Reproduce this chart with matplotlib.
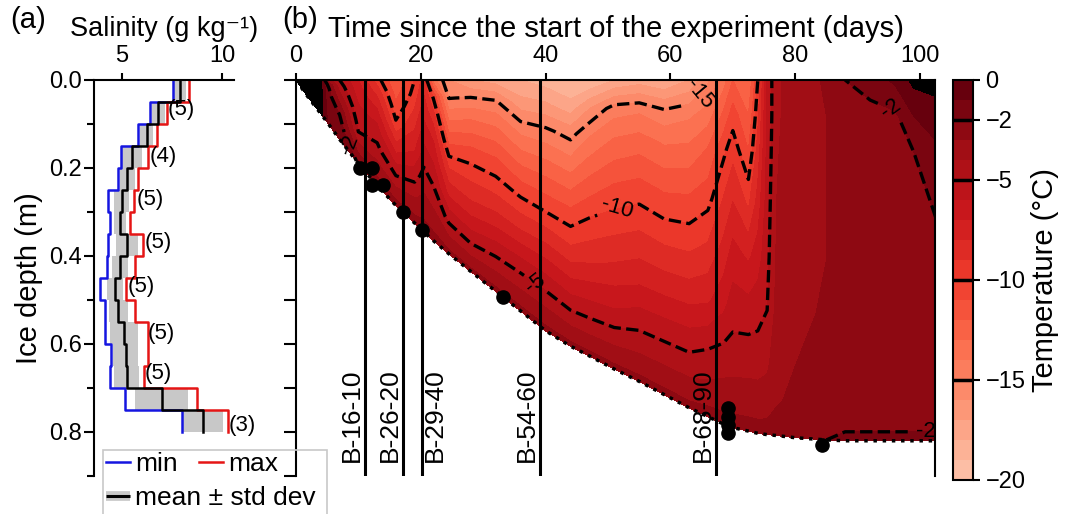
import numpy as np
import matplotlib
matplotlib.use('Agg')
import matplotlib.pyplot as plt
from matplotlib.lines import Line2D
from matplotlib.patches import Rectangle

plt.rcParams['font.family'] = ['Liberation Sans', 'DejaVu Sans']
plt.rcParams['axes.linewidth'] = 1.5

# ---- (a) salinity profiles, 5 cm layers ----
layer_edges = [0.0, 0.05, 0.10, 0.15, 0.20, 0.25, 0.30, 0.35, 0.40,
               0.45, 0.50, 0.55, 0.60, 0.65, 0.70, 0.75, 0.80]
sal_min = [7.57, 6.40, 5.82, 4.95, 4.78, 4.32, 4.40, 4.32, 4.23, 3.90, 4.15, 4.15, 4.45, 4.40, 5.15, 7.98]
sal_mean = [7.90, 6.82, 6.23, 5.52, 5.27, 4.98, 4.90, 5.23, 4.90, 4.65, 4.82, 5.12, 5.18, 5.23, 6.98, 9.07]
sal_max = [8.37, 7.23, 6.73, 6.32, 5.78, 5.62, 5.40, 6.07, 5.65, 5.18, 5.65, 6.28, 6.32, 6.12, 8.73, 10.32]
sal_std = [0.30, 0.33, 0.33, 0.50, 0.38, 0.38, 0.30, 0.55, 0.42, 0.42, 0.46, 0.70, 0.62, 0.62, 1.33, 1.00]

ncore_lab = ['(5)', '(4)', '(5)', '(5)', '(5)', '(5)', '(5)', '(3)']
ncore_sal = [7.3, 6.4, 5.75, 6.15, 5.3, 6.3, 6.15, 10.35]
ncore_dep = [0.068, 0.173, 0.272, 0.37, 0.469, 0.575, 0.666, 0.785]

# ---- (b) temperature field: columns in time, values at fractions of ice thickness ----
times = [0, 2, 4, 5, 7, 10, 13, 16, 19, 20.5, 22, 24.5, 28, 32, 36, 40, 44, 47, 51, 55,
         59, 63, 66, 68.5, 70, 72.5, 74, 75.5, 77, 80, 85, 88, 92, 96, 99, 102.5]
thick = [0.0, 0.04, 0.077, 0.096, 0.135, 0.19, 0.24, 0.285, 0.325, 0.345, 0.365, 0.395,
         0.435, 0.48, 0.525, 0.57, 0.605, 0.627, 0.657, 0.685, 0.715, 0.745, 0.765, 0.782,
         0.79, 0.798, 0.803, 0.806, 0.808, 0.813, 0.818, 0.82, 0.82, 0.82, 0.82, 0.82]
frac = [0, 0.1, 0.2, 0.35, 0.5, 0.65, 0.8, 0.9, 1.0]
temp_cols = [
    [0.5, 0.5, 0.5, 0.5, 0.5, 0.5, 0.5, 0.5, 0.5],
    [0.5, 0.5, 0.5, 0.5, 0.5, 0.5, 0.5, 0.5, 0.5],
    [0.3, 0.3, 0.3, 0.3, 0.3, 0.3, 0.3, 0.3, 0.3],
    [-3.5, -2.0, -1.6, -1.4, -1.3, -1.2, -1.1, -1.0, -1.0],
    [-5.0, -4.5, -4.0, -3.2, -2.3, -1.8, -1.5, -1.3, -1.2],
    [-7.0, -6.6, -6.3, -5.8, -5.4, -4.9, -3.6, -2.8, -2.1],
    [-9.5, -8.5, -7.6, -6.4, -5.5, -4.7, -3.8, -3.1, -2.5],
    [-12.0, -11.4, -10.8, -9.8, -8.0, -6.2, -4.6, -3.5, -2.6],
    [-10.0, -9.6, -9.0, -8.0, -7.0, -5.6, -4.2, -3.3, -2.6],
    [-8.5, -8.0, -7.4, -6.5, -5.5, -4.5, -3.7, -3.1, -2.6],
    [-13.5, -10.2, -8.8, -7.2, -6.1, -5.05, -4.0, -3.3, -2.6],
    [-16.0, -15.1, -13.5, -11.3, -9.1, -7.3, -5.3, -4.0, -2.7],
    [-17.0, -14.8, -13.1, -11.0, -9.3, -7.8, -5.8, -4.3, -2.7],
    [-17.5, -14.9, -13.3, -11.2, -9.5, -7.7, -5.5, -4.1, -2.7],
    [-18.0, -16.6, -14.6, -12.3, -10.1, -8.0, -5.5, -4.1, -2.7],
    [-18.5, -16.8, -14.8, -12.5, -10.4, -8.0, -5.6, -4.1, -2.7],
    [-19.0, -17.6, -15.4, -13.0, -10.7, -8.6, -6.1, -4.4, -2.7],
    [-19.0, -16.1, -14.1, -12.0, -10.0, -8.2, -6.0, -4.4, -2.7],
    [-18.0, -14.5, -13.0, -11.1, -9.4, -7.8, -5.9, -4.3, -2.7],
    [-17.5, -14.2, -12.6, -10.7, -9.0, -7.4, -5.4, -4.1, -2.7],
    [-18.0, -14.8, -13.1, -11.1, -9.3, -7.5, -5.4, -4.1, -2.7],
    [-17.0, -14.3, -12.9, -11.0, -9.3, -7.5, -5.4, -4.1, -2.7],
    [-15.2, -13.6, -12.0, -10.4, -8.8, -7.2, -5.0, -3.9, -2.6],
    [-13.5, -11.8, -10.3, -8.9, -7.6, -6.3, -4.6, -3.7, -2.6],
    [-12.0, -10.5, -9.4, -8.0, -6.6, -5.5, -4.5, -3.6, -2.6],
    [-13.0, -12.0, -11.0, -9.2, -7.2, -5.6, -4.4, -3.6, -2.6],
    [-10.0, -9.3, -8.6, -7.6, -6.5, -5.4, -4.4, -3.6, -2.6],
    [-5.8, -5.8, -5.7, -5.5, -5.3, -5.0, -4.2, -3.5, -2.6],
    [-4.2, -4.2, -4.1, -4.0, -3.9, -3.7, -3.4, -3.1, -2.6],
    [-3.4, -3.4, -3.4, -3.3, -3.3, -3.2, -3.0, -2.8, -2.4],
    [-2.9, -3.0, -3.0, -3.0, -3.0, -2.9, -2.7, -2.4, -2.0],
    [-2.0, -2.6, -2.8, -2.9, -2.9, -2.8, -2.6, -2.3, -1.9],
    [-1.5, -2.4, -2.7, -2.8, -2.8, -2.7, -2.5, -2.3, -1.9],
    [-0.8, -2.2, -2.6, -2.8, -2.8, -2.7, -2.5, -2.3, -1.9],
    [0.3, -1.0, -2.0, -2.5, -2.7, -2.7, -2.5, -2.3, -1.9],
    [0.5, -0.6, -1.2, -1.9, -2.4, -2.6, -2.5, -2.3, -1.9],
]

# core bottoms (dots) and sampled cores
dot_t = [10.3, 12.2, 12.2, 13.9, 17.1, 20.2, 33.2, 69.2, 69.2, 69.2, 69.2, 84.3]
dot_d = [0.20, 0.20, 0.239, 0.239, 0.30, 0.34, 0.493, 0.745, 0.766, 0.784, 0.802, 0.83]
core_t = [11.0, 17.1, 20.2, 39.1, 67.3]
core_names = ['B-16-10', 'B-26-20', 'B-29-40', 'B-54-60', 'B-68-90']

W, H = 1066, 514
fig = plt.figure(figsize=(W / 100, H / 100), dpi=100)
ax1 = fig.add_axes([94 / W, 38 / H, 140 / W, 396 / H])
ax2 = fig.add_axes([296 / W, 38 / H, 639 / W, 396 / H])
cax = fig.add_axes([953 / W, 34 / H, 20 / W, 400 / H])

# ---- panel a ----
ytop = np.array(layer_edges[:-1])
ybot = np.array(layer_edges[1:])
ys = np.column_stack([ytop, ybot]).ravel()

def stepx(v):
    return np.repeat(np.asarray(v, dtype=float), 2)

lo = np.array(sal_mean) - np.array(sal_std)
hi = np.array(sal_mean) + np.array(sal_std)
ax1.fill_betweenx(ys, stepx(lo), stepx(hi), color='#c8c8c8', lw=0, zorder=1)
ax1.plot(stepx(sal_min), ys, color='#1515e0', lw=1.8, zorder=2)
ax1.plot(stepx(sal_max), ys, color='#e51515', lw=1.8, zorder=2)
ax1.plot(stepx(sal_mean), ys, color='k', lw=1.8, zorder=3)
for lab, s, d in zip(ncore_lab, ncore_sal, ncore_dep):
    ax1.text(s, d, lab, fontsize=16, ha='left', va='center')

ax1.set_xlim(3.6, 10.6)
ax1.set_ylim(0.9, 0)
ax1.xaxis.tick_top()
ax1.xaxis.set_label_position('top')
ax1.set_xticks([5, 10])
ax1.set_yticks([0, 0.2, 0.4, 0.6, 0.8])
ax1.set_yticks([0.1, 0.3, 0.5, 0.7, 0.9], minor=True)
ax1.yaxis.set_major_formatter('{x:.1f}')
ax1.spines['right'].set_visible(False)
ax1.spines['bottom'].set_visible(False)
ax1.tick_params(axis='x', labelsize=17, length=5, width=1.5, pad=4)
ax1.tick_params(axis='y', which='major', labelsize=17, length=7, width=1.5, pad=2)
ax1.tick_params(axis='y', which='minor', length=5, width=1.5)
ax1.set_xlabel('Salinity (g kg⁻¹)', fontsize=19.5, labelpad=7)
ax1.set_ylabel('Ice depth (m)', fontsize=21, labelpad=4)

# ---- panel b ----
T = np.array(temp_cols).T
Z = np.array(frac)[:, None] * np.array(thick)[None, :]
X = np.broadcast_to(np.array(times, dtype=float)[None, :], Z.shape)

levels = np.arange(-20, 1, 1)
band_colors = plt.cm.Reds(np.linspace(0.24, 1.0, len(levels) - 1))
cf = ax2.contourf(X, Z, T, levels=levels, colors=band_colors, zorder=1)
ax2.contourf(X, Z, T, levels=[0, 10], colors='k', zorder=1)
cs = ax2.contour(X, Z, T, levels=[-15, -10, -5, -2], colors='k',
                 linestyles='--', linewidths=2.4, zorder=2)
ax2.clabel(cs, fmt='%d', fontsize=16, inline=True,
           manual=[(8, 0.15), (38, 0.47), (51.5, 0.295), (64.5, 0.03),
                   (96, 0.05), (101, 0.79)])
ax2.plot(times, thick, color='k', ls=':', lw=2.5, zorder=3)
ax2.plot(dot_t, dot_d, 'o', color='k', ms=9.5, zorder=4)

for t, name in zip(core_t, core_names):
    ax2.axvline(t, color='k', lw=2.2, zorder=3)
    if name == 'B-29-40':
        ax2.text(t + 0.2, 0.868, name, rotation=90, fontsize=19, ha='left', va='bottom')
    else:
        ax2.text(t - 0.1, 0.868, name, rotation=90, fontsize=19, ha='right', va='bottom')

ax2.set_xlim(0, 102.4)
ax2.set_ylim(0.9, 0)
ax2.xaxis.tick_top()
ax2.xaxis.set_label_position('top')
ax2.set_xticks([0, 20, 40, 60, 80, 100])
ax2.set_yticks(np.arange(0, 0.91, 0.1))
ax2.set_yticklabels([])
ax2.spines['bottom'].set_visible(False)
ax2.tick_params(axis='x', labelsize=17, length=5, width=1.5, pad=4)
ax2.tick_params(axis='y', length=9, width=1.5)
ax2.set_xlabel('Time since the start of the experiment (days)', fontsize=21, labelpad=6)

# ---- colorbar ----
cb = fig.colorbar(cf, cax=cax, ticks=[0, -2, -5, -10, -15, -20])
cb.add_lines([-15, -10, -5, -2], ['k'] * 4, [2.5] * 4)
cb.outline.set_linewidth(1.5)
cax.tick_params(labelsize=17, length=5, width=1.5, pad=4)
cb.set_label('Temperature (°C)', fontsize=21, labelpad=4)

# ---- panel letters ----
fig.text(10 / W, 1 - 20 / H, '(a)', fontsize=21, va='center', ha='left')
fig.text(282 / W, 1 - 20 / H, '(b)', fontsize=21, va='center', ha='left')

# ---- legend ----
fig.add_artist(Rectangle((103 / W, -10 / H), 224 / W, 74 / H, transform=fig.transFigure,
                         fc='none', ec='#c8c8c8', lw=1.2))
h_min = Line2D([], [], color='#1515e0', lw=1.8)
h_max = Line2D([], [], color='#e51515', lw=1.8)
h_mean = (Line2D([], [], color='#c8c8c8', lw=7, solid_capstyle='butt'),
          Line2D([], [], color='k', lw=2.2, solid_capstyle='butt'))
fig.legend([h_min, h_max], ['min', 'max'], ncol=2, loc='upper left',
           bbox_to_anchor=(106 / W, 1 - 452 / H), frameon=False, fontsize=19,
           handlelength=0.9, handletextpad=0.2, columnspacing=0.8,
           borderpad=0, borderaxespad=0)
fig.legend([h_mean], ['mean ± std dev'], loc='upper left',
           bbox_to_anchor=(106 / W, 1 - 486 / H), frameon=False, fontsize=19,
           handlelength=0.9, handletextpad=0.2, borderpad=0, borderaxespad=0)

fig.savefig('out.png', dpi=100)
